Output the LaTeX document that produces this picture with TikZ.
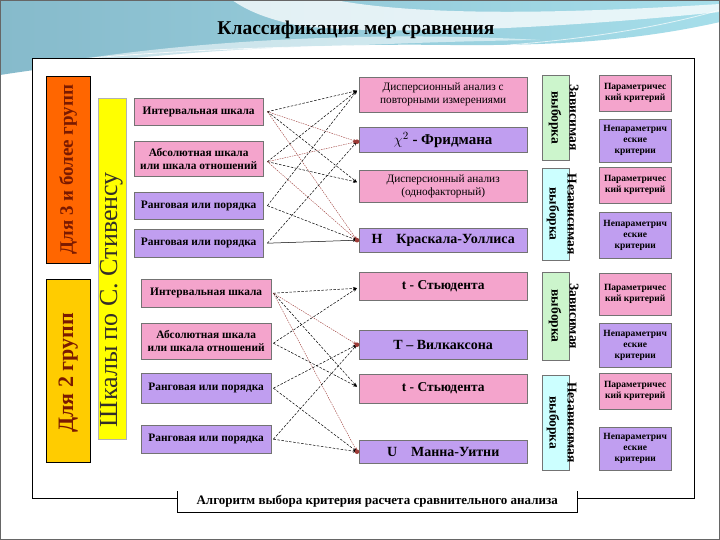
\documentclass[tikz,border=0pt]{standalone}
\usepackage{fontspec}
\setmainfont{Liberation Serif}
\usetikzlibrary{arrows.meta,shadows}
\definecolor{pinkbox}{HTML}{F4A4CC}
\definecolor{purplebox}{HTML}{C09EF0}
\definecolor{orangebox}{HTML}{FF6600}
\definecolor{goldbox}{HTML}{FFCC00}
\definecolor{yellowbox}{HTML}{FFFF00}
\definecolor{greenbox}{HTML}{CCF5CC}
\definecolor{cyanbox}{HTML}{CCFFFF}
\definecolor{redline}{HTML}{9C3A36}
\definecolor{labelred}{HTML}{7A1A00}
\definecolor{bgleft}{HTML}{86BACB}
\definecolor{bgright}{HTML}{A6DEEA}
\newcommand\mybox[7]{\node[box,#6,minimum width=#4pt-#2pt,minimum height=#5pt-#3pt] (#1) at (#2,#3) {#7};}
\begin{document}
\begin{tikzpicture}[x=1pt,y=-1pt,
  box/.style={anchor=north west, inner sep=0pt, align=center, draw=black!55, line width=0.4pt,
    general shadow={shadow xshift=1pt, shadow yshift=-1pt, fill=black!85}},
  pinkb/.style={fill=pinkbox},
  purpb/.style={fill=purplebox},
  scl/.style={font=\fontsize{11.4}{13}\selectfont\bfseries},
  crit/.style={font=\fontsize{9.5}{11}\selectfont\bfseries},
  vlab/.style={rotate=-90, align=center, font=\fontsize{13.5}{18}\selectfont\bfseries},
  blk/.style={draw=black, line width=0.5pt, dash pattern=on 2.5pt off 1.5pt, -{Stealth[length=4pt,width=3pt]}},
  blks/.style={draw=black, line width=0.5pt, -{Stealth[length=4pt,width=3pt]}},
  redl/.style={draw=redline, line width=0.4pt, dash pattern=on 1.5pt off 1pt, -{Stealth[length=4pt,width=3pt]}},
  dotr/.style={fill=redline}
]
\useasboundingbox (0,0) rectangle (720,540);
\fill[white] (0,0) rectangle (720,540);
% background banner
\shade[left color=bgleft, right color=bgright]
  (0,0) -- (720,0) -- (720,22) .. controls (640,40) and (560,46) .. (450,45)
  .. controls (300,43) and (150,52) .. (0,75) -- cycle;
\fill[white, opacity=0.75]
  (232,0) -- (335,0) .. controls (420,16) and (560,14) .. (720,4) -- (720,12)
  .. controls (560,28) and (400,36) .. (300,26) .. controls (262,18) and (245,9) .. (232,0) -- cycle;
\fill[white, opacity=0.55]
  (40,66) .. controls (170,42) and (360,30) .. (540,40) .. controls (380,42) and (200,52) .. (40,66) -- cycle;
\draw[white, line width=0.8pt, opacity=0.8] (50,62) .. controls (200,46) and (380,44) .. (470,47);
\draw[white, line width=0.6pt, opacity=0.8] (60,66) .. controls (180,54) and (300,50) .. (420,50);
\draw[white, line width=0.8pt, opacity=0.7] (430,50) .. controls (560,44) and (650,30) .. (720,10);
% title
\node[font=\fontsize{19.5}{22}\selectfont\bfseries] (title) at (356,30) {Классификация мер сравнения};
% frame
\draw[fill=white, line width=0.8pt] (32,58) rectangle (694,498);
% left column
\mybox{g3}{46}{76}{90}{263}{fill=orangebox, draw=black}{}
\mybox{g2}{46}{279}{90}{462}{fill=goldbox, draw=black}{}
\mybox{st}{98}{98}{126}{439}{fill=yellowbox, draw=black!30}{}
\node[rotate=90, text=labelred, font=\fontsize{19}{21}\selectfont\bfseries] (g3t) at (g3.center) {Для 3 и более групп};
\node[rotate=90, text=labelred, font=\fontsize{22}{24}\selectfont\bfseries] (g2t) at ([yshift=-2pt]g2.center) {Для 2 групп};
\node[rotate=90, text=black!85!olive, font=\fontsize{26}{28}\selectfont] (stt) at ([xshift=-1pt,yshift=-31pt]st.center) {Шкалы по С. Стивенсу};
% scales, upper
\mybox{a1}{134}{98}{263}{125}{pinkb,scl}{Интервальная шкала}
\mybox{a2}{134}{141}{263}{176}{pinkb,scl}{Абсолютная шкала\\или шкала отношений}
\mybox{a3}{134}{192}{263}{219}{purpb,scl}{Ранговая или порядка}
\mybox{a4}{134}{229}{263}{257}{purpb,scl}{Ранговая или порядка}
% scales, lower
\mybox{b1}{141}{279}{271}{307}{pinkb,scl}{Интервальная шкала}
\mybox{b2}{141}{323}{271}{359}{pinkb,scl}{Абсолютная шкала\\или шкала отношений}
\mybox{b3}{141}{373}{271}{403}{purpb,scl}{Ранговая или порядка}
\mybox{b4}{141}{425}{271}{453}{purpb,scl}{Ранговая или порядка}
% methods, upper
\mybox{m1}{359}{77}{527}{112}{pinkb,font=\fontsize{11.3}{13}\selectfont}{Дисперсионный анализ с\\повторными измерениями}
\mybox{m2}{359}{127}{527}{152}{purpb,font=\fontsize{15}{17}\selectfont\bfseries}{$\chi^2$ - Фридмана}
\mybox{m3}{359}{170}{527}{202}{pinkb,font=\fontsize{11.3}{13}\selectfont}{Дисперсионный анализ\\(однофакторный)}
\mybox{m4}{359}{228}{527}{252}{purpb,font=\fontsize{14}{16}\selectfont\bfseries}{H\quad Краскала-Уоллиса}
% methods, lower
\mybox{n1}{359}{272}{527}{300}{pinkb,font=\fontsize{13.5}{15}\selectfont\bfseries}{t - Стьюдента}
\mybox{n2}{359}{330}{527}{359}{purpb,font=\fontsize{14}{16}\selectfont\bfseries}{T – Вилкаксона}
\mybox{n3}{359}{374}{527}{403}{pinkb,font=\fontsize{13.5}{15}\selectfont\bfseries}{t - Стьюдента}
\mybox{n4}{359}{440}{527}{463}{purpb,font=\fontsize{14}{16}\selectfont\bfseries}{U\quad Манна-Уитни}
% sample type
\mybox{v1}{542}{75}{569}{160}{fill=greenbox}{}
\mybox{v2}{542}{168}{569}{260}{fill=cyanbox}{}
\mybox{v3}{542}{272}{569}{360}{fill=greenbox}{}
\mybox{v4}{542}{375}{569}{470}{fill=cyanbox}{}
\node[vlab] (v1t) at ([xshift=8pt]v1.center) {Зависимая\\выборка};
\node[vlab] (v2t) at ([xshift=6pt]v2.center) {Независимая\\выборка};
\node[vlab] (v3t) at ([xshift=8pt]v3.center) {Зависимая\\выборка};
\node[vlab] (v4t) at ([xshift=6pt]v4.center) {Независимая\\выборка};
% criteria
\mybox{c1}{599}{75}{671}{111}{pinkb,crit}{Параметричес\\кий критерий}
\mybox{c2}{599}{119}{671}{162}{purpb,crit}{Непараметрич\\еские\\критерии}
\mybox{c3}{599}{167}{671}{203}{pinkb,crit}{Параметричес\\кий критерий}
\mybox{c4}{599}{212}{671}{258}{purpb,crit}{Непараметрич\\еские\\критерии}
\mybox{c5}{599}{273}{671}{315}{pinkb,crit}{Параметричес\\кий критерий}
\mybox{c6}{599}{323}{671}{367}{purpb,crit}{Непараметрич\\еские\\критерии}
\mybox{c7}{599}{373}{671}{409}{pinkb,crit}{Параметричес\\кий критерий}
\mybox{c8}{599}{427}{671}{470}{purpb,crit}{Непараметрич\\еские\\критерии}
% connector end points
\coordinate (sa1) at ([xshift=4pt]a1.east);
\coordinate (sa2) at ([xshift=4pt,yshift=-3pt]a2.east);
\coordinate (sa3) at ([xshift=4pt]a3.east);
\coordinate (sa4) at ([xshift=4pt]a4.east);
\coordinate (tm1) at ([xshift=-2pt,yshift=4pt]m1.west);
\coordinate (tm2) at ([xshift=-2pt,yshift=-2pt]m2.west);
\coordinate (tm3) at ([xshift=-2pt,yshift=4pt]m3.west);
\coordinate (tm4) at ([xshift=-2pt]m4.west);
\coordinate (sb1) at ([xshift=2pt]b1.east);
\coordinate (sb2) at ([xshift=2pt,yshift=-2pt]b2.east);
\coordinate (sb3) at ([xshift=2pt]b3.east);
\coordinate (sb4) at ([xshift=2pt]b4.east);
\coordinate (tn1) at ([xshift=-2pt,yshift=-2pt]n1.west);
\coordinate (tn2) at ([xshift=-2pt]n2.west);
\coordinate (tn3) at ([xshift=-2pt,yshift=2pt]n3.west);
\coordinate (tn4) at ([xshift=-2pt]n4.west);
% upper connectors
\draw[blk] (sa1) -- (tm1);
\draw[redl] (sa1) -- (tm2);
\draw[blk] (sa1) -- (tm3);
\draw[redl] (sa1) -- (tm4);
\draw[blk] (sa2) -- (tm1);
\draw[redl] (sa2) -- (tm2);
\draw[blk] (sa2) -- (tm3);
\draw[redl] (sa2) -- (tm4);
\draw[blk] (sa3) -- (tm1);
\draw[blk] (sa3) -- (tm4);
\draw[blk] (sa4) -- (tm2);
\draw[blks] (sa4) -- (tm4);
% lower connectors
\draw[blk] (sb1) -- (tn1);
\draw[redl] (sb1) -- (tn2);
\draw[blk] (sb1) -- (tn3);
\draw[redl] (sb1) -- (tn4);
\draw[blk] (sb2) -- (tn1);
\draw[blk] (sb2) -- (tn3);
\draw[blk] (sb3) -- (tn2);
\draw[blk] (sb3) -- (tn4);
\draw[blk] (sb4) -- (tn2);
\draw[blk] (sb4) -- (tn4);
% red end dots
\fill[dotr] (tm2) circle (2.3pt);
\fill[dotr] (tm4) circle (2.3pt);
\fill[dotr] (tn2) circle (2.3pt);
\fill[dotr] (tn4) circle (2.3pt);
% caption
\node[anchor=north west, inner sep=0pt, fill=white, minimum width=400pt, minimum height=21pt,
  font=\fontsize{13}{15}\selectfont\bfseries] (cap) at (177,491) {Алгоритм выбора критерия расчета сравнительного анализа};
\draw[line width=0.8pt] (cap.north west) -- (cap.south west) -- (cap.south east) -- (cap.north east);
% slide border
\draw[black!60, line width=2pt] (0,0) rectangle (720,540);
\end{tikzpicture}
\end{document}
